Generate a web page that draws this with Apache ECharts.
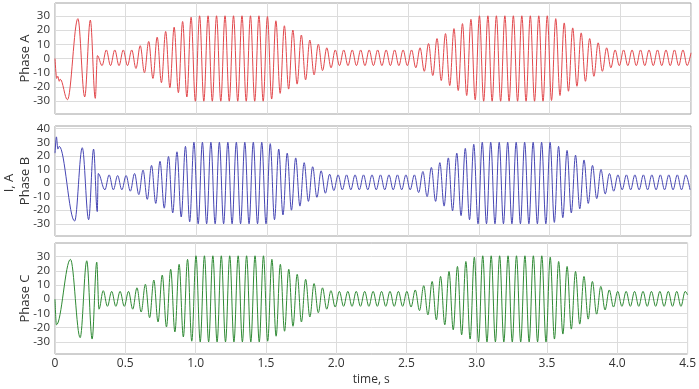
<!DOCTYPE html>
<html>
<head>
<meta charset="utf-8">
<script src="https://cdn.jsdelivr.net/npm/echarts@6/dist/echarts.min.js"></script>
<style>
html,body{margin:0;padding:0;background:#fff;}
#chart{width:699px;height:389px;}
</style>
</head>
<body>
<div id="chart"></div>
<script>
// ---- data ----
const xTicks = [0, 0.5, 1.0, 1.5, 2.0, 2.5, 3.0, 3.5, 4.0, 4.5];
const yTicks = [-30, -20, -10, 0, 10, 20, 30];
const yTicksB = [-30, -20, -10, 0, 10, 20, 30, 40];
const panelNames = ['Phase A', 'Phase B', 'Phase C'];

// start-up transient: [time s, current A] at turning points
const transientA = [[0,0],[0.012,-14],[0.02,-12.5],[0.03,-16],[0.037,-14.5],[0.088,-29],[0.162,28],[0.21,-27],[0.25,27],[0.285,-28],[0.300,2]];
const transientB = [[0,22],[0.01,34],[0.02,25],[0.03,27],[0.139,-28],[0.193,26],[0.238,-27],[0.273,25],[0.299,-21],[0.306,7]];
const transientC = [[0,0],[0.01,-18],[0.11,28],[0.179,-27],[0.226,27],[0.264,-28],[0.297,26]];

// steady part: successive turning-point values (half period 0.03 s)
const halfPeriod = 0.03;
const startA = 0.333, startB = 0.353, startC = 0.313;
const peaksA = [
  -5,6,-5,6,-5,6,-5,6,
  -7,9,-10,12,-14,15,-17,19,-20.5,22,-24,26,-27,29,-30,30,
  -30,30,-30,30,-30,30,-30,30,-30,30,-30,30,-30,30,-30,
  29.5,-28.5,26.5,-24.5,23,-21.5,20,-18,16.5,-15,13,-11.5,10,-8.5,7.5,-6.5,6,
  -5,6,-5,6,-5,6,-5,6,-5,6,-5,6,-5,6,-5,6,-5,
  6,-6.5,7.5,-9,10.5,-12,14,-15.5,17.5,-19,21,-22.5,24.5,-26,27.5,-29,
  30,-30,30,-30,30,-30,30,-30,30,-30,30,-30,30,-30,30,-30,30,
  -29.5,28,-26,25,-23,21.5,-19.5,18,-16,14,-12.5,11,-9,7.5,-6.5,6,
  -5,6,-5,6,-5,6,-5,6,-5,6,-5,6,-5,6,-5,6,-5
];
const peaksB = [
  -5,6,-5,5.5,-5,5.5,-6,7,
  -8.5,9.5,-12,13,-15,16,-18.5,19.5,-22,23,-25,27,-28.5,30,
  -30,30,-30,30,-30,30,-30,30,-30,30,-30,30,-30,30,-30,30,-30,
  29,-27,25,-23.5,22,-20,18.5,-17,15,-13.5,12,-10.5,9,-7.5,6.5,-5.5,6,
  -5,6,-5,6,-5,6,-5,6,-5,6,-5,6,-5,6,-5,6,-5,
  6,-7,8.5,-10,11.5,-13.5,15,-17,18.5,-20.5,22,-24,25.5,-27,28.5,
  -30,30,-30,30,-30,30,-30,30,-30,30,-30,30,-30,30,-30,30,-30,30,
  -29,27,-25.5,24,-22,20.5,-19,17,-15,13,-11.5,10,-8,7,-6,6,
  -5,6,-5,6,-5,6,-5,6,-5,6,-5,6,-5,6,-5,6,-5
];
const peaksC = [
  -7,6,-5,5.5,-5,5.5,-5,5.5,
  -7,8,-9,10.5,-13,13.5,-16,17,-19.5,21,-23,24.5,-26.5,28,-29.5,30.5,
  -30,30.5,-30,30.5,-30,30.5,-30,30.5,-30,30.5,-30,30.5,-30,30.5,-30,30.5,
  -29.5,28,-26,24.5,-22.5,21,-19,17.5,-16,14,-12.5,11,-9.5,8,-7,6,-5.5,
  5.5,-5,5.5,-5,5.5,-5,5.5,-5,5.5,-5,5.5,-5,5.5,-5,5.5,-5,5.5,
  -5.5,6.5,-8,9.5,-11,12.5,-14.5,16,-18,19.5,-21.5,23,-25,26.5,-28,29.5,
  -30,30.5,-30,30.5,-30,30.5,-30,30.5,-30,30.5,-30,30.5,-30,30.5,-30,30.5,-30,
  29.5,-28,26.5,-24.5,23,-21,19.5,-17.5,16,-14,12.5,-10.5,9,-7.5,6.5,-5.5,
  5.5,-5,5.5,-5,5.5,-5,5.5,-5,5.5,-5,5.5,-5,5.5,-5,5.5,-5,5.5
];
const endA = [[4.5, 4]];
const endB = [];
const endC = [[4.5, 3]];

const colors = ['#e2474b', '#4646b4', '#2f8a34'];

function build(trans, start, peaks, tail) {
  const pts = trans.slice();
  peaks.forEach((v, i) => pts.push([+(start + i * halfPeriod).toFixed(4), v]));
  return pts.concat(tail);
}
const seriesData = [
  build(transientA, startA, peaksA, endA),
  build(transientB, startB, peaksB, endB),
  build(transientC, startC, peaksC, endC)
];

// ---- chart ----
const FONT = 'Open Sans';
const grids = [
  {left: 55, width: 636, top: 3, height: 111},
  {left: 55, width: 636, top: 126, height: 110},
  {left: 55, width: 636, top: 243, height: 111}
];
const yRanges = [[-39, 39], [-39, 42], [-38.5, 39.5]];

const chart = echarts.init(document.getElementById('chart'), null, {renderer: 'canvas'});
chart.setOption({
  animation: false,
  backgroundColor: '#fff',
  textStyle: {fontFamily: FONT},
  grid: grids.map(g => Object.assign({show: true, borderColor: '#a0a0a0', borderWidth: 1, backgroundColor: 'transparent'}, g)),
  xAxis: [0, 1, 2].map(i => ({
    type: 'value', gridIndex: i, min: 0, max: 4.5, interval: 0.5,
    axisLine: {show: false}, axisTick: {show: false},
    splitLine: {show: true, lineStyle: {color: '#dcdcdc', width: 1}},
    axisLabel: {show: i === 2, color: '#333', fontSize: 12, fontFamily: FONT, margin: 4,
      formatter: v => (v === 0 ? '0' : v.toFixed(1))},
    name: i === 2 ? 'time, s' : '', nameLocation: 'middle', nameGap: 20, nameMoveOverlap: false,
    nameTextStyle: {color: '#333', fontSize: 12, fontFamily: FONT}
  })),
  yAxis: [0, 1, 2].map(i => ({
    type: 'value', gridIndex: i, min: yRanges[i][0], max: yRanges[i][1],
    axisLine: {show: false},
    axisTick: {show: false, customValues: i === 1 ? yTicksB : yTicks},
    splitLine: {show: true, lineStyle: {color: '#dcdcdc', width: 1}},
    axisLabel: {color: '#333', fontSize: 11.5, fontFamily: FONT, margin: 5,
      customValues: i === 1 ? yTicksB : yTicks},
    name: panelNames[i], nameLocation: 'middle', nameGap: 23, nameRotate: 90, nameMoveOverlap: false,
    nameTextStyle: {color: '#333', fontSize: 13, fontFamily: FONT}
  })),
  graphic: [{
    type: 'text', x: 9, y: 183, rotation: Math.PI / 2,
    style: {text: 'I, A', fill: '#333', font: '13px "Open Sans"', align: 'center', verticalAlign: 'middle'}
  }],
  series: [0, 1, 2].map(i => ({
    type: 'line', xAxisIndex: i, yAxisIndex: i, data: seriesData[i],
    showSymbol: false, symbol: 'none', smooth: 0.36, smoothMonotone: 'x',
    lineStyle: {color: colors[i], width: 1}, silent: true
  }))
});
</script>
</body>
</html>
